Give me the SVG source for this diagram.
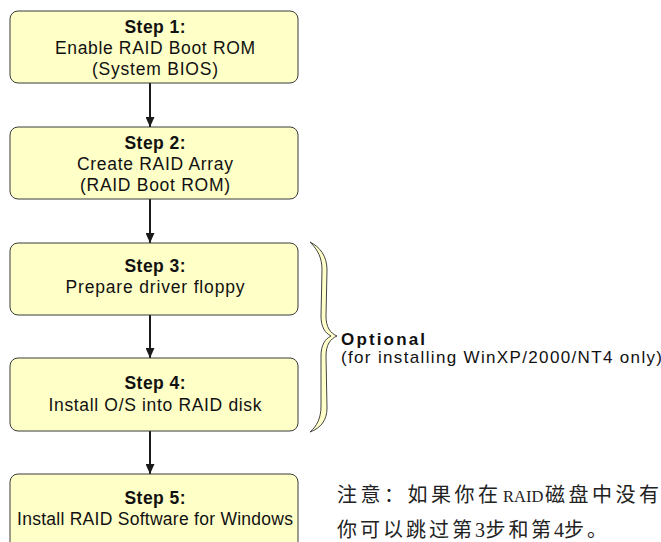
<svg xmlns="http://www.w3.org/2000/svg" width="661" height="542" viewBox="0 0 661 542">
<style>
.box{fill:#FFFFC8;stroke:#3a3a3a;stroke-width:1}
.t{font-family:"Liberation Sans",Arial,sans-serif;font-size:17.5px;fill:#111;text-anchor:middle}
.b{font-weight:bold}
.o{font-family:"Liberation Sans",Arial,sans-serif;font-size:17px;fill:#111}
.cn{font-family:"Noto Sans CJK SC",sans-serif;font-size:20px;fill:#222}
.lat{font-family:"Liberation Serif","Noto Sans CJK SC",serif;font-size:20px;fill:#222}
.arr{stroke:#1a1a1a;stroke-width:2;fill:none;marker-end:url(#ah)}
.brace{fill:#FFFFC8;stroke:#444;stroke-width:1}
</style>
<defs>
<marker id="ah" markerUnits="userSpaceOnUse" viewBox="0 0 10 9" markerWidth="10" markerHeight="9" refX="10" refY="4.5" orient="auto">
<path d="M0,0 L10,4.5 L0,9 z" fill="#1a1a1a"/>
</marker>
</defs>
<g id="connectors">
<line class="arr" x1="150" y1="83" x2="150" y2="127"/>
<line class="arr" x1="150" y1="199" x2="150" y2="243"/>
<line class="arr" x1="150" y1="315" x2="150" y2="358"/>
<line class="arr" x1="150" y1="431" x2="150" y2="474"/>
</g>
<g id="step1">
<rect class="box" x="10" y="11" width="288" height="72" rx="8"/>
<text class="t b" x="155" y="33" textLength="61" lengthAdjust="spacing">Step 1:</text>
<text class="t" x="155" y="54" textLength="200" lengthAdjust="spacing">Enable RAID Boot ROM</text>
<text class="t" x="155" y="75" textLength="126" lengthAdjust="spacing">(System BIOS)</text>
</g>
<g id="step2">
<rect class="box" x="10" y="127" width="288" height="72" rx="8"/>
<text class="t b" x="155" y="149" textLength="61" lengthAdjust="spacing">Step 2:</text>
<text class="t" x="155" y="170" textLength="156" lengthAdjust="spacing">Create RAID Array</text>
<text class="t" x="155" y="191" textLength="150" lengthAdjust="spacing">(RAID Boot ROM)</text>
</g>
<g id="step3">
<rect class="box" x="10" y="243" width="288" height="72" rx="8"/>
<text class="t b" x="155" y="272" textLength="61" lengthAdjust="spacing">Step 3:</text>
<text class="t" x="155" y="293" textLength="179" lengthAdjust="spacing">Prepare driver floppy</text>
</g>
<g id="step4">
<rect class="box" x="10" y="358" width="288" height="73" rx="8"/>
<text class="t b" x="155" y="389" textLength="61" lengthAdjust="spacing">Step 4:</text>
<text class="t" x="155" y="411" textLength="213" lengthAdjust="spacing">Install O/S into RAID disk</text>
</g>
<g id="step5">
<rect class="box" x="10" y="474" width="288" height="80" rx="8"/>
<text class="t b" x="155" y="504" textLength="61" lengthAdjust="spacing">Step 5:</text>
<text class="t" x="155" y="525" textLength="276" lengthAdjust="spacing">Install RAID Software for Windows</text>
</g>
<g id="optional">
<path class="brace" d="M310,242 C320,247 327,256 327,270 L326,316 C326,327 330,333 337,336 C330,339 326,345 326,356 L327,408 C327,420 321,428 310,432 C317,426 321,418 321,406 L321,356 C321,345 325,339 331,336 C325,333 321,327 321,316 L322,270 C322,258 318,250 310,242 Z"/>
<text class="o b" x="341" y="345" textLength="84" lengthAdjust="spacing">Optional</text>
<text class="o" x="341" y="363" textLength="321" lengthAdjust="spacing">(for installing WinXP/2000/NT4 only)</text>
</g>
<g id="note">
<text class="cn" y="502" x="337 360.5 384 407.5 431 454.5 478">注意：如果你在</text>
<text class="lat" x="503" y="502" style="font-size:16.5px">RAID</text>
<text class="cn" y="502" x="545 568.5 592 615.5 639">磁盘中没有</text>
<text class="cn" y="537" x="337 360 383 406 429 452">你可以跳过第</text>
<text class="lat" x="475" y="537">3</text>
<text class="cn" y="537" x="485.5 508.5 531">步和第</text>
<text class="lat" x="554" y="537">4</text>
<text class="cn" y="537" x="564 587">步。</text>
</g>
</svg>
